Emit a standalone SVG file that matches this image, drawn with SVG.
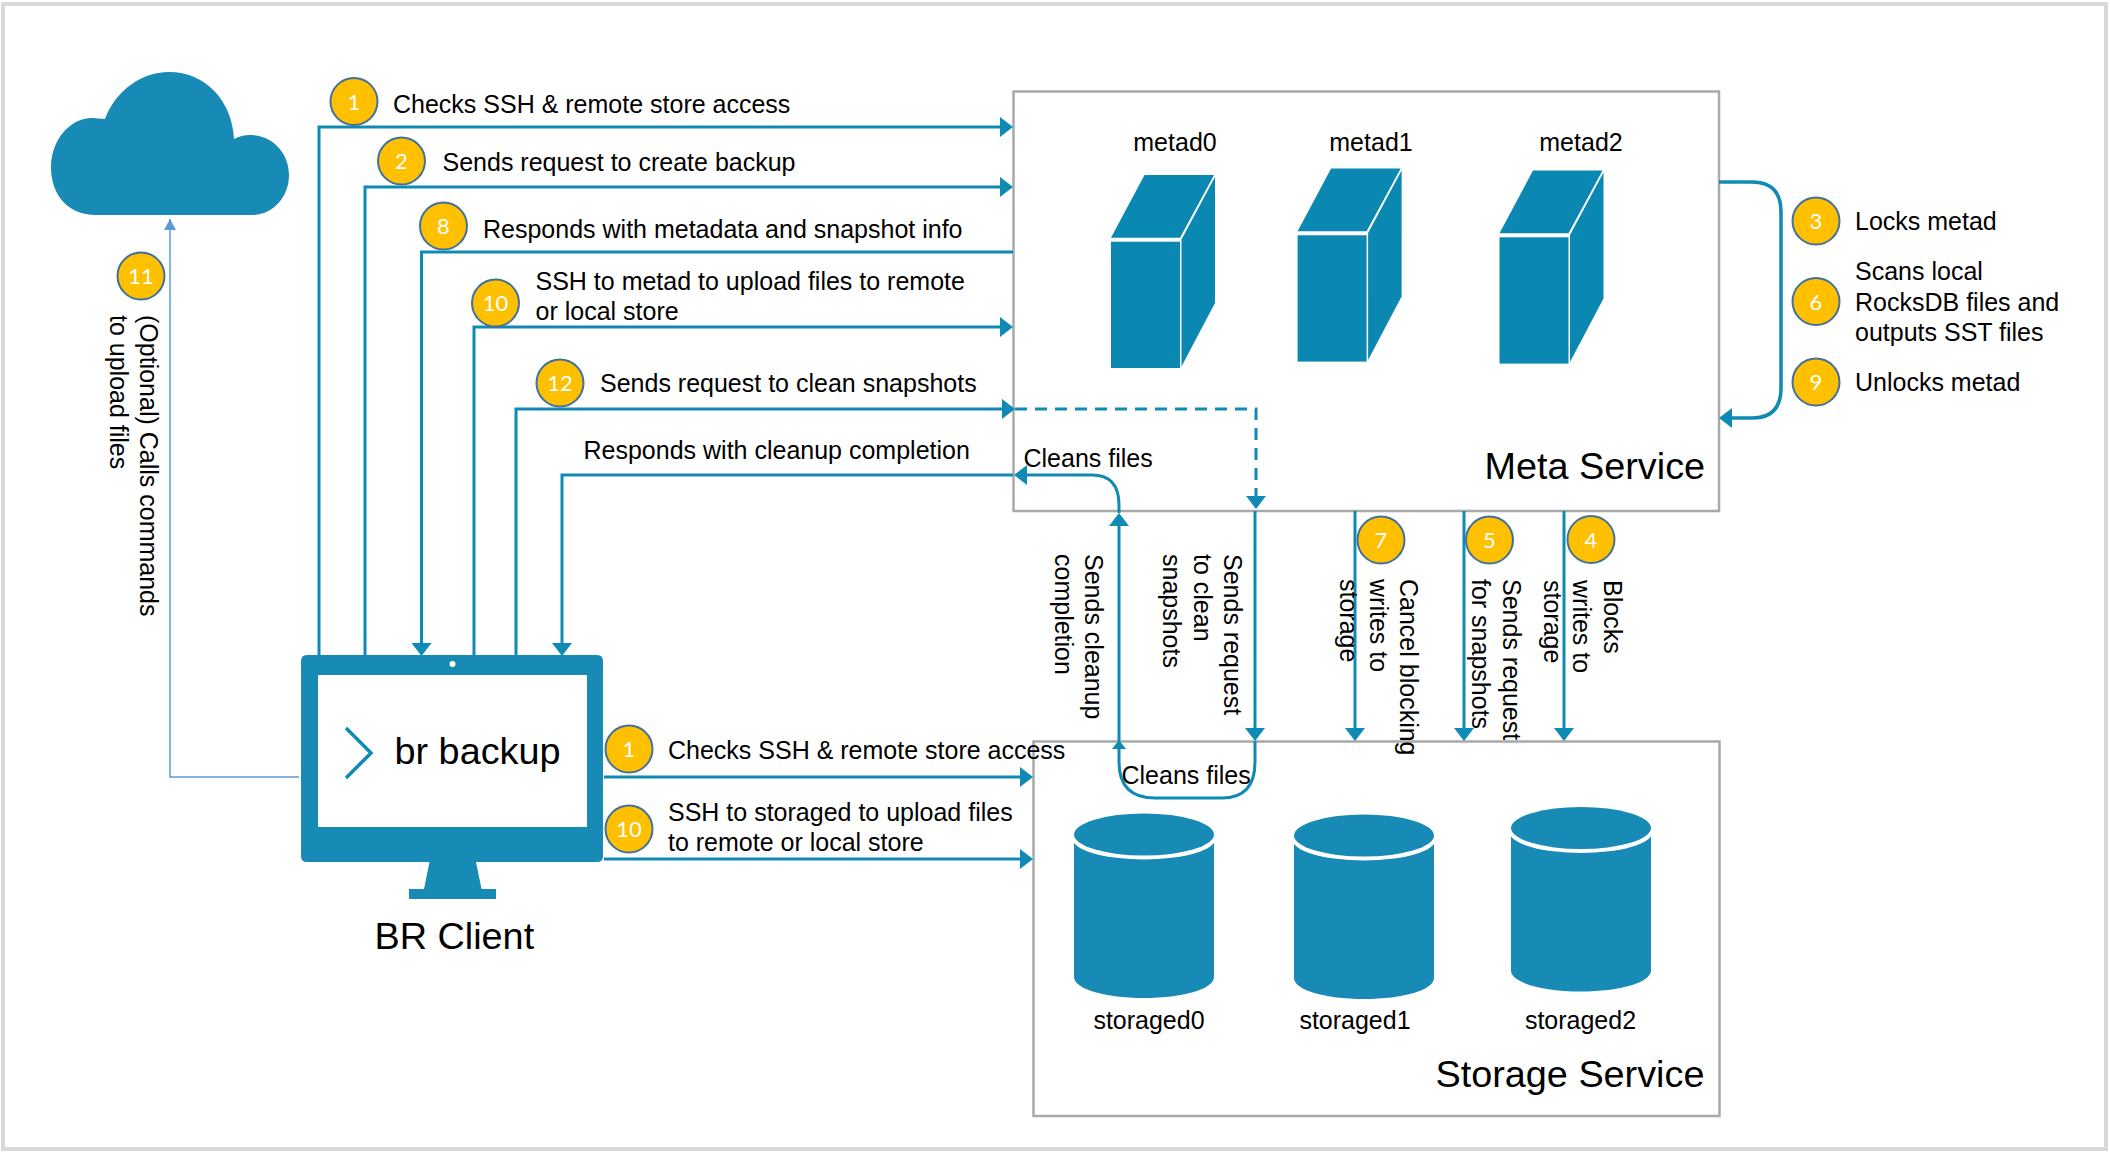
<svg xmlns="http://www.w3.org/2000/svg" xmlns:xlink="http://www.w3.org/1999/xlink" width="2110" height="1152" viewBox="0 0 2110 1152">
<style>
text{font-family:"Liberation Sans",Arial,sans-serif;font-size:25px;fill:#000}
.big{font-size:37.800px}
.mid{text-anchor:middle}
.b ellipse{fill:#ffc000;stroke:#41719c;stroke-width:2}
.b text{font-family:Lato,"Liberation Sans",sans-serif;font-size:22px;fill:#fff;text-anchor:middle}
.c{fill:none;stroke:#0f8ab4;stroke-width:3}
.box{fill:#fff;stroke:#a9a9a9;stroke-width:2.500}
.t{fill:#0b88b2}
.s{fill:#178bb5}
</style>
<defs>
<marker id="a" markerUnits="userSpaceOnUse" markerWidth="14" markerHeight="20" refX="7" refY="10" orient="auto"><path d="M0 0L13 10L0 20Z" fill="#0f8ab4"/></marker>
<marker id="as" markerUnits="userSpaceOnUse" markerWidth="10" markerHeight="14" refX="4" refY="7" orient="auto"><path d="M0 0L9 7L0 14Z" fill="#0f8ab4"/></marker>
<marker id="at" markerUnits="userSpaceOnUse" markerWidth="12" markerHeight="12" refX="11" refY="6" orient="auto"><path d="M0 0L11 6L0 12Z" fill="#5b9bd5"/></marker>
<g id="cube" class="t">
<path d="M1111 237.700H1180L1214 175H1144.500Z"/>
<rect x="1111" y="241.700" width="69" height="126.300"/>
<path d="M1181.500 239.500L1215 177V303L1181.500 366.500Z"/>
</g>
<g id="cyl" class="s">
<path d="M1074 834V977C1074 989 1105 998 1144 998C1183 998 1214 989 1214 977V834Z"/>
<ellipse cx="1144" cy="838" rx="72" ry="21.500" fill="#fff"/>
<ellipse cx="1144" cy="834.500" rx="70" ry="21"/>
</g>
</defs>
<rect id="frame" x="3" y="4" width="2103" height="1145" fill="#fff" stroke="#d9d9d9" stroke-width="4"/>

<g id="cloud"><path class="s" d="M96 215C68 215 51 195 51 167C51 140 70 118 92 118L105 119C115 92 140 72 169 72C205 72 232 100 234 139C240 136 246 134.500 252 135C273 136 289 153 289 175C289 197 273 215 252 215Z"/></g>

<g id="meta-service">
<rect class="box" x="1013.500" y="91.500" width="705.500" height="419.500"/>
<use xlink:href="#cube" href="#cube"/>
<use xlink:href="#cube" href="#cube" transform="translate(186.600 -6.400)"/>
<use xlink:href="#cube" href="#cube" transform="translate(388.500 -4.400)"/>
<text class="mid" x="1175" y="151">metad0</text>
<text class="mid" x="1371" y="151">metad1</text>
<text class="mid" x="1581" y="151">metad2</text>
<text class="big" x="1484.500" y="479">Meta Service</text>
</g>

<text id="label-5a" transform="translate(1502.500 579) rotate(90)">Sends request</text>

<g id="storage-service">
<rect class="box" x="1033.500" y="741.500" width="686" height="374.500"/>
<use xlink:href="#cyl" href="#cyl"/>
<use xlink:href="#cyl" href="#cyl" transform="translate(220 1)"/>
<use xlink:href="#cyl" href="#cyl" transform="translate(437 -6.500)"/>
<text class="mid" x="1149" y="1029">storaged0</text>
<text class="mid" x="1355" y="1029">storaged1</text>
<text class="mid" x="1580.500" y="1029">storaged2</text>
<text class="big" x="1435.500" y="1086.500">Storage Service</text>
</g>

<g id="br-client">
<path class="s" d="M307 655H597Q603 655 603 661V856Q603 862 597 862H476L481.500 889H496V899H409V889H424L429.500 862H307Q301 862 301 856V661Q301 655 307 655Z"/>
<rect x="318" y="675" width="269" height="152" fill="#fff"/>
<ellipse cx="452.500" cy="664" rx="3" ry="3" fill="#fff"/>
<path d="M346 728L371 753L346 778" fill="none" stroke="#0f8ab4" stroke-width="3.500"/>
<text class="big" x="394.500" y="764">br backup</text>
<text class="big" x="374.500" y="949">BR Client</text>
</g>

<g id="connectors">
<path class="c" d="M319 655V127H1007" marker-end="url(#a)"/>
<path class="c" d="M365 655V187H1007" marker-end="url(#a)"/>
<path class="c" d="M1013 252H421.500V650" marker-end="url(#a)"/>
<path class="c" d="M474 655V327H1007" marker-end="url(#a)"/>
<path class="c" d="M516 655V409H1009" marker-end="url(#a)"/>
<path class="c" d="M1013 475H562V650" marker-end="url(#a)"/>
<path class="c" d="M1015 409H1256V503" stroke-dasharray="12 8" marker-end="url(#a)"/>
<path class="c" d="M1719 182H1752Q1781 182 1781 212V388Q1781 418 1752 418H1725" marker-end="url(#a)" style="stroke-width:3.500"/>
<path class="c" d="M1119 741V519" marker-end="url(#a)"/>
<path class="c" d="M1119 513V505Q1119 475 1092 475H1020" marker-end="url(#a)"/>
<path class="c" d="M1255 511V735" marker-end="url(#a)"/>
<path class="c" d="M1255 741V762Q1255 798 1222 798H1155Q1119 798 1119 762V745" marker-end="url(#as)"/>
<path class="c" d="M1355 511V735" marker-end="url(#a)"/>
<path class="c" d="M1464 511V735" marker-end="url(#a)"/>
<path class="c" d="M1564 511V735" marker-end="url(#a)"/>
<path class="c" d="M604 777H1027" marker-end="url(#a)"/>
<path class="c" d="M604 859H1027" marker-end="url(#a)"/>
<path d="M299 777H170V219" fill="none" stroke="#5b9bd5" stroke-width="1.500" marker-end="url(#at)"/>
</g>

<g id="labels">
<text x="393" y="113">Checks SSH &amp; remote store access</text>
<text x="442.500" y="171">Sends request to create backup</text>
<text x="483" y="237.500">Responds with metadata and snapshot info</text>
<text x="535.500" y="289.500">SSH to metad to upload files to remote</text>
<text x="535.500" y="319.500">or local store</text>
<text x="600" y="392">Sends request to clean snapshots</text>
<text x="583.500" y="459">Responds with cleanup completion</text>
<text x="1023.500" y="467">Cleans files</text>
<text x="1121.500" y="784">Cleans files</text>
<text x="1855" y="230">Locks metad</text>
<text x="1855" y="280">Scans local</text>
<text x="1855" y="310.500">RocksDB files and</text>
<text x="1855" y="341">outputs SST files</text>
<text x="1855" y="390.500">Unlocks metad</text>
<text x="668" y="759">Checks SSH &amp; remote store access</text>
<text x="668" y="820.500">SSH to storaged to upload files</text>
<text x="668" y="850.500">to remote or local store</text>
<text transform="translate(140 315) rotate(90)">(Optional) Calls commands</text>
<text transform="translate(110 315) rotate(90)">to upload files</text>
<text transform="translate(1085 554) rotate(90)">Sends cleanup</text>
<text transform="translate(1055 554) rotate(90)">completion</text>
<text transform="translate(1224 554) rotate(90)">Sends request</text>
<text transform="translate(1193.500 554) rotate(90)">to clean</text>
<text transform="translate(1163 554) rotate(90)">snapshots</text>
<text transform="translate(1400 579) rotate(90)">Cancel blocking</text>
<text transform="translate(1370 579) rotate(90)">writes to</text>
<text transform="translate(1340 579) rotate(90)">storage</text>
<text transform="translate(1472 579) rotate(90)">for snapshots</text>
<text transform="translate(1603.500 580) rotate(90)">Blocks</text>
<text transform="translate(1573 580) rotate(90)">writes to</text>
<text transform="translate(1543.500 580) rotate(90)">storage</text>
</g>

<g id="badges" class="b">
<g id="b1"><ellipse cx="354" cy="101.500" rx="23.500" ry="23.500"/><text x="354" y="109.500">1</text></g>
<g id="b2"><ellipse cx="401.500" cy="161" rx="23.500" ry="23.500"/><text x="401.500" y="169">2</text></g>
<g id="b8"><ellipse cx="443.500" cy="226" rx="23.500" ry="23.500"/><text x="443.500" y="234">8</text></g>
<g id="b10"><ellipse cx="495.500" cy="303" rx="23.500" ry="23.500"/><text x="495.500" y="311">10</text></g>
<g id="b12"><ellipse cx="560" cy="383" rx="23.500" ry="23.500"/><text x="560" y="391">12</text></g>
<g id="b11"><ellipse cx="141" cy="276" rx="23.500" ry="23.500"/><text x="141" y="284">11</text></g>
<g id="b3"><ellipse cx="1816" cy="221" rx="23.500" ry="23.500"/><text x="1816" y="229">3</text></g>
<g id="b6"><ellipse cx="1816" cy="301.500" rx="23.500" ry="23.500"/><text x="1816" y="309.500">6</text></g>
<g id="b9"><ellipse cx="1816" cy="382" rx="23.500" ry="23.500"/><text x="1816" y="390">9</text></g>
<g id="b7"><ellipse cx="1381" cy="540" rx="23.500" ry="23.500"/><text x="1381" y="548">7</text></g>
<g id="b5"><ellipse cx="1489.500" cy="540" rx="23.500" ry="23.500"/><text x="1489.500" y="548">5</text></g>
<g id="b4"><ellipse cx="1591" cy="539.500" rx="23.500" ry="23.500"/><text x="1591" y="547.500">4</text></g>
<g id="b1b"><ellipse cx="629" cy="749" rx="23.500" ry="23.500"/><text x="629" y="757">1</text></g>
<g id="b10b"><ellipse cx="629" cy="829" rx="23.500" ry="23.500"/><text x="629" y="837">10</text></g>
</g>
</svg>
